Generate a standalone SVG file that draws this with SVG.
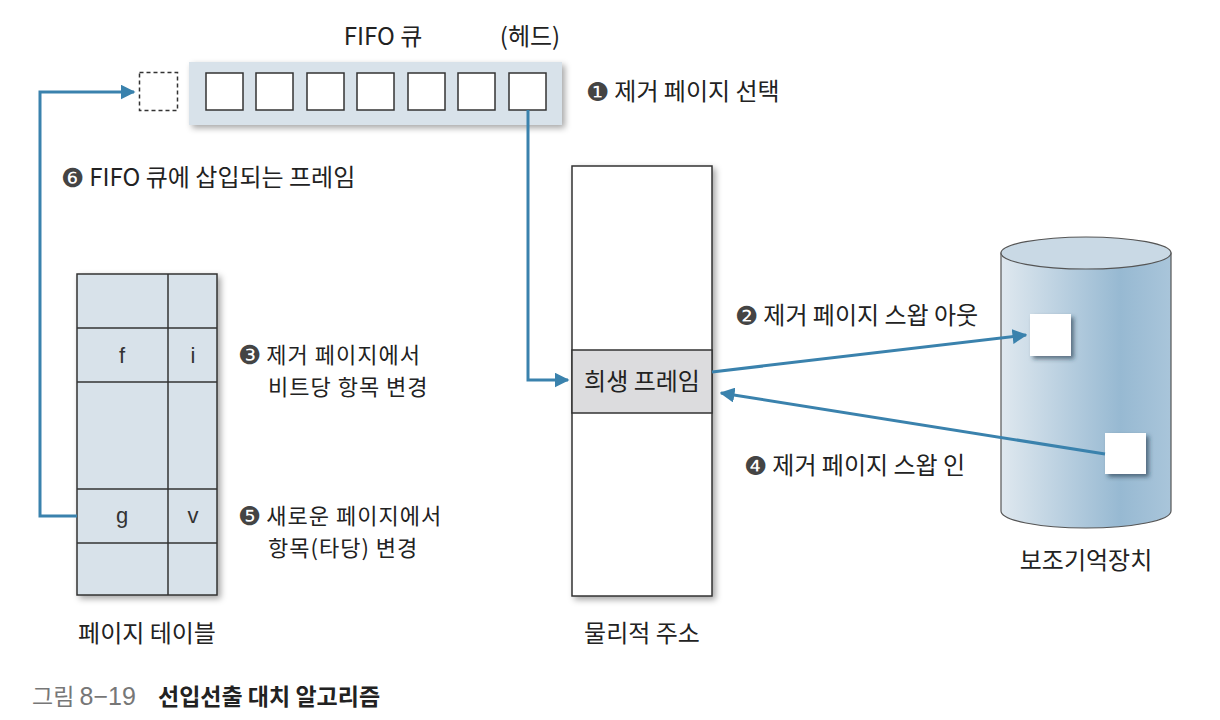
<svg xmlns="http://www.w3.org/2000/svg" width="1220" height="720" viewBox="0 0 1220 720">
<style>
.t{font-family:"Noto Sans CJK KR","Noto Sans",sans-serif;font-size:24px;fill:#222}
.t2{font-family:"Noto Sans CJK KR","Noto Sans",sans-serif;font-size:22px;letter-spacing:1px;fill:#222}
.n{font-family:"DejaVu Sans",sans-serif;font-size:26px;fill:#444}
.c{text-anchor:middle}
.l{font-family:"Liberation Sans",sans-serif;font-size:22px;fill:#333;text-anchor:middle}
.box{stroke:#333;stroke-width:1.5}
.cell{fill:#fff;stroke:#333;stroke-width:1.5}
.ar{fill:none;stroke:#3a82ad;stroke-width:3}
</style>
<defs>
<filter id="sh" x="-10%" y="-10%" width="130%" height="130%">
<feDropShadow dx="3" dy="3" stdDeviation="3" flood-color="#000" flood-opacity="0.35"/>
</filter>
<filter id="sh2" x="-20%" y="-20%" width="150%" height="150%">
<feDropShadow dx="3" dy="3" stdDeviation="2" flood-color="#234" flood-opacity="0.6"/>
</filter>
<marker id="ah" viewBox="0 0 10 10" refX="9" refY="5" markerWidth="5" markerHeight="5" orient="auto" markerUnits="strokeWidth">
<path d="M0,0 L10,5 L0,10 z" fill="#3a82ad"/>
</marker>
<linearGradient id="cyl" x1="0" x2="1" y1="0" y2="0">
<stop offset="0" stop-color="#dfe8ef"/>
<stop offset="0.7" stop-color="#97b9d2"/>
<stop offset="1" stop-color="#a9c5da"/>
</linearGradient>
</defs>

<g id="fifo-queue">
<text class="t c" x="383" y="45">FIFO 큐</text>
<text class="t c" x="530" y="45">(헤드)</text>
<rect x="189" y="62" width="373" height="63" fill="#d8e2ea" filter="url(#sh)"/>
<rect class="cell" x="206" y="73" width="37" height="37"/>
<rect class="cell" x="256" y="73" width="37" height="37"/>
<rect class="cell" x="307" y="73" width="37" height="37"/>
<rect class="cell" x="357" y="73" width="37" height="37"/>
<rect class="cell" x="408" y="73" width="37" height="37"/>
<rect class="cell" x="458" y="73" width="37" height="37"/>
<rect class="cell" x="509" y="73" width="37" height="37"/>
</g>
<g id="new-slot">
<rect x="139.5" y="72.5" width="38" height="38" fill="#fff" stroke="#333" stroke-width="1.5" stroke-dasharray="4,3"/>
</g>

<g id="page-table">
<rect x="77" y="274" width="140" height="321" fill="#d8e2ea" class="box" filter="url(#sh)"/>
<line class="box" x1="168" y1="274" x2="168" y2="595"/>
<line class="box" x1="77" y1="328" x2="217" y2="328"/>
<line class="box" x1="77" y1="382" x2="217" y2="382"/>
<line class="box" x1="77" y1="489" x2="217" y2="489"/>
<line class="box" x1="77" y1="543" x2="217" y2="543"/>
<text class="l" x="122" y="363">f</text>
<text class="l" x="193" y="363">i</text>
<text class="l" x="122" y="523">g</text>
<text class="l" x="193" y="523">v</text>
<text class="t c" x="147" y="642">페이지 테이블</text>
</g>

<g id="physical-memory">
<rect x="572" y="166" width="140" height="430" fill="#fff" class="box" filter="url(#sh)"/>
<rect x="572" y="350" width="140" height="63" fill="#dcdcde" class="box"/>
<text class="t c" x="642" y="390">희생 프레임</text>
<text class="t c" x="642" y="642">물리적 주소</text>
</g>

<g id="storage">
<path d="M1001,253 L1001,511 A85,17 0 0 0 1171,511 L1171,253 Z" fill="url(#cyl)" stroke="#555" stroke-width="1.2"/>
<ellipse cx="1086" cy="253" rx="85" ry="16" fill="#c9d9e5" stroke="#555" stroke-width="1.2"/>
<rect x="1030" y="314" width="41" height="42" fill="#fff" filter="url(#sh2)"/>
<rect x="1105" y="433" width="41" height="41" fill="#fff" filter="url(#sh2)"/>
<text class="t c" x="1086" y="569">보조기억장치</text>
</g>

<g id="connectors">
<path class="ar" d="M528,110 L528,380 L568,380" marker-end="url(#ah)"/>
<path class="ar" d="M712,372 L1026,335" marker-end="url(#ah)"/>
<path class="ar" d="M1105,454 L721,393" marker-end="url(#ah)"/>
<path class="ar" d="M77,516 L40,516 L40,92 L134,92" marker-end="url(#ah)"/>
</g>

<g id="labels">
<text x="586" y="101"><tspan class="n">❶</tspan><tspan class="t" dx="5" y="100">제거 페이지 선택</tspan></text>
<text x="61" y="187"><tspan class="n">❻</tspan><tspan class="t" dx="5" y="186">FIFO 큐에 삽입되는 프레임</tspan></text>
<text x="238" y="364"><tspan class="n">❸</tspan><tspan class="t2" dx="5" y="363">제거 페이지에서</tspan></text>
<text class="t2" x="268" y="395">비트당 항목 변경</text>
<text x="238" y="525"><tspan class="n">❺</tspan><tspan class="t2" dx="5" y="524">새로운 페이지에서</tspan></text>
<text class="t2" x="268" y="556">항목(타당) 변경</text>
<text x="735" y="325"><tspan class="n">❷</tspan><tspan class="t" dx="5" y="324">제거 페이지 스왑 아웃</tspan></text>
<text x="744" y="475"><tspan class="n">❹</tspan><tspan class="t" dx="5" y="474">제거 페이지 스왑 인</tspan></text>
</g>

<g id="caption">
<text x="32" y="705" style="font-family:'Noto Sans CJK KR','Noto Sans',sans-serif;font-size:23px;fill:#777">그림 <tspan style="font-family:'Liberation Sans',sans-serif;font-size:25px">8−19</tspan></text>
<text x="158" y="705" style="font-family:'Noto Sans CJK KR','Noto Sans',sans-serif;font-size:23px;font-weight:bold;fill:#222">선입선출 대치 알고리즘</text>
</g>
</svg>
